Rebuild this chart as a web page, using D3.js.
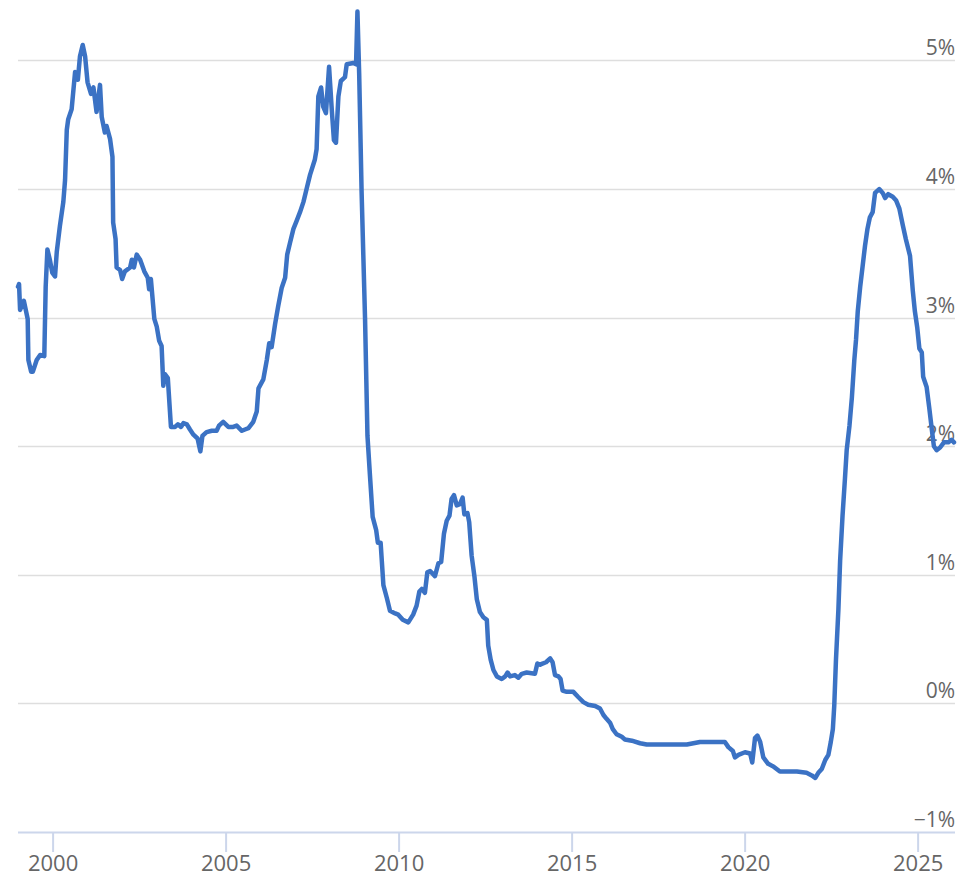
<!DOCTYPE html>
<html>
<head>
<meta charset="utf-8">
<script src="https://cdn.jsdelivr.net/npm/d3@7"></script>
<style>
  html, body { margin: 0; padding: 0; background: #fff; }
  svg { display: block; font-family: 'Open Sans', sans-serif; }
</style>
</head>
<body>
<svg id="chart" width="979" height="886"></svg>
<script>
// decimal year of each reading
const years = [
  1999.0, 1999.03, 1999.06, 1999.17, 1999.28, 1999.30, 1999.38, 1999.43, 1999.54, 1999.64,
  1999.76, 1999.80, 1999.85, 1999.92, 1999.99, 2000.07, 2000.12, 2000.21, 2000.31, 2000.36,
  2000.41, 2000.45, 2000.55, 2000.65, 2000.73, 2000.79, 2000.87, 2000.94, 2001.01, 2001.11,
  2001.18, 2001.27, 2001.37, 2001.42, 2001.51, 2001.56, 2001.66, 2001.73, 2001.75, 2001.82,
  2001.85, 2001.95, 2002.01, 2002.09, 2002.24, 2002.29, 2002.35, 2002.43, 2002.53, 2002.65,
  2002.75, 2002.79, 2002.84, 2002.94, 2003.01, 2003.08, 2003.15, 2003.20, 2003.25, 2003.33,
  2003.42, 2003.54, 2003.62, 2003.71, 2003.78, 2003.88, 2003.97, 2004.07, 2004.19, 2004.27,
  2004.33, 2004.45, 2004.60, 2004.74, 2004.81, 2004.93, 2005.08, 2005.22, 2005.32, 2005.47,
  2005.56, 2005.66, 2005.80, 2005.90, 2005.95, 2006.09, 2006.19, 2006.26, 2006.33, 2006.43,
  2006.52, 2006.62, 2006.72, 2006.78, 2006.86, 2006.96, 2007.05, 2007.15, 2007.25, 2007.34,
  2007.44, 2007.58, 2007.63, 2007.68, 2007.76, 2007.82, 2007.90, 2007.99, 2008.07, 2008.13,
  2008.19, 2008.26, 2008.33, 2008.45, 2008.50, 2008.69, 2008.77, 2008.81, 2008.86, 2008.93,
  2009.03, 2009.10, 2009.17, 2009.25, 2009.35, 2009.40, 2009.48, 2009.56, 2009.66, 2009.75,
  2009.90, 2009.99, 2010.12, 2010.28, 2010.42, 2010.52, 2010.60, 2010.67, 2010.76, 2010.83,
  2010.91, 2011.05, 2011.15, 2011.23, 2011.31, 2011.39, 2011.47, 2011.53, 2011.60, 2011.68,
  2011.77, 2011.85, 2011.90, 2011.99, 2012.04, 2012.11, 2012.19, 2012.26, 2012.35, 2012.45,
  2012.55, 2012.59, 2012.66, 2012.74, 2012.84, 2012.98, 2013.08, 2013.15, 2013.22, 2013.36,
  2013.46, 2013.56, 2013.70, 2013.94, 2014.01, 2014.09, 2014.16, 2014.26, 2014.38, 2014.45,
  2014.52, 2014.62, 2014.68, 2014.74, 2014.86, 2015.05, 2015.19, 2015.34, 2015.48, 2015.68,
  2015.82, 2015.92, 2016.01, 2016.11, 2016.19, 2016.30, 2016.45, 2016.54, 2016.74, 2016.98,
  2017.17, 2017.46, 2017.94, 2018.33, 2018.71, 2019.05, 2019.43, 2019.53, 2019.66, 2019.72,
  2019.82, 2020.01, 2020.16, 2020.22, 2020.30, 2020.37, 2020.45, 2020.54, 2020.68, 2020.83,
  2021.02, 2021.22, 2021.51, 2021.79, 2021.94, 2022.04, 2022.13, 2022.23, 2022.33, 2022.42,
  2022.49, 2022.55, 2022.59, 2022.64, 2022.71, 2022.76, 2022.83, 2022.90, 2022.95, 2023.03,
  2023.10, 2023.17, 2023.22, 2023.27, 2023.34, 2023.41, 2023.48, 2023.55, 2023.62, 2023.70,
  2023.77, 2023.89, 2023.99, 2024.06, 2024.15, 2024.28, 2024.38, 2024.47, 2024.57, 2024.66,
  2024.78, 2024.86, 2024.92, 2024.99, 2025.05, 2025.12, 2025.16, 2025.26, 2025.34, 2025.41,
  2025.47, 2025.55, 2025.65, 2025.76, 2025.89, 2025.98, 2026.05
]

// rate in percent
const rates = [
  3.24, 3.26, 3.06, 3.13, 2.99, 2.67, 2.58, 2.58, 2.67, 2.71,
  2.70, 3.24, 3.53, 3.45, 3.35, 3.32, 3.51, 3.71, 3.90, 4.07,
  4.46, 4.54, 4.62, 4.91, 4.85, 5.03, 5.12, 5.03, 4.83, 4.74,
  4.79, 4.60, 4.81, 4.56, 4.44, 4.49, 4.39, 4.25, 3.74, 3.61,
  3.39, 3.37, 3.30, 3.36, 3.39, 3.45, 3.39, 3.49, 3.45, 3.36,
  3.31, 3.22, 3.30, 2.99, 2.93, 2.82, 2.78, 2.47, 2.56, 2.53,
  2.15, 2.15, 2.17, 2.15, 2.18, 2.17, 2.13, 2.09, 2.06, 1.96,
  2.08, 2.11, 2.12, 2.12, 2.16, 2.19, 2.15, 2.15, 2.16, 2.12,
  2.13, 2.14, 2.19, 2.27, 2.45, 2.52, 2.67, 2.80, 2.77, 2.95,
  3.09, 3.23, 3.31, 3.49, 3.58, 3.69, 3.75, 3.82, 3.90, 4.00,
  4.11, 4.23, 4.31, 4.72, 4.79, 4.64, 4.59, 4.95, 4.61, 4.38,
  4.36, 4.72, 4.84, 4.87, 4.97, 4.98, 4.97, 5.38, 4.90, 3.98,
  2.99, 2.08, 1.78, 1.45, 1.35, 1.25, 1.25, 0.92, 0.82, 0.72,
  0.70, 0.69, 0.65, 0.63, 0.69, 0.76, 0.87, 0.89, 0.86, 1.02,
  1.03, 0.99, 1.09, 1.10, 1.32, 1.42, 1.46, 1.59, 1.62, 1.54,
  1.55, 1.60, 1.47, 1.48, 1.41, 1.15, 0.99, 0.81, 0.71, 0.67,
  0.65, 0.45, 0.34, 0.26, 0.21, 0.19, 0.21, 0.24, 0.21, 0.22,
  0.20, 0.23, 0.24, 0.23, 0.31, 0.30, 0.31, 0.32, 0.35, 0.32,
  0.22, 0.21, 0.19, 0.10, 0.09, 0.09, 0.05, 0.01, -0.01, -0.02,
  -0.04, -0.09, -0.12, -0.15, -0.20, -0.24, -0.26, -0.28, -0.29, -0.31,
  -0.32, -0.32, -0.32, -0.32, -0.30, -0.30, -0.30, -0.34, -0.37, -0.42,
  -0.40, -0.38, -0.39, -0.46, -0.27, -0.25, -0.30, -0.42, -0.47, -0.49,
  -0.53, -0.53, -0.53, -0.54, -0.56, -0.58, -0.54, -0.51, -0.44, -0.40,
  -0.30, -0.20, -0.02, 0.34, 0.73, 1.11, 1.46, 1.75, 1.97, 2.16,
  2.38, 2.67, 2.83, 3.05, 3.24, 3.40, 3.56, 3.69, 3.78, 3.82,
  3.97, 4.00, 3.97, 3.93, 3.96, 3.94, 3.91, 3.85, 3.72, 3.61,
  3.48, 3.21, 3.05, 2.92, 2.76, 2.73, 2.54, 2.46, 2.29, 2.13,
  2.00, 1.97, 1.99, 2.03, 2.03, 2.05, 2.03
]

const yearTicks = [2000, 2005, 2010, 2015, 2020, 2025]
const rateTicks = [-1, 0, 1, 2, 3, 4, 5]

const data = years.map((t, i) => ({ t, v: rates[i] }))

const svg = d3.select('#chart')
const left = 18
const right = 955
const bottom = 832

const xScale = d3.scaleLinear()
  .domain([1999.0, 2026.08])
  .range([left, right])

const yScale = d3.scaleLinear()
  .domain([-1, 5.47])
  .range([bottom, 0])

// horizontal grid lines
svg.append('g')
  .selectAll('line')
  .data(rateTicks.filter(d => d > -1))
  .join('line')
  .attr('x1', left)
  .attr('x2', right)
  .attr('y1', d => Math.round(yScale(d)) + 0.5)
  .attr('y2', d => Math.round(yScale(d)) + 0.5)
  .style('stroke', '#dedede')
  .style('stroke-width', 1.5)

// y labels sit on the right, just above their grid line
svg.append('g')
  .selectAll('text')
  .data(rateTicks)
  .join('text')
  .attr('x', right)
  .attr('y', d => yScale(d) - 5)
  .attr('text-anchor', 'end')
  .style('font-size', '21px')
  .style('fill', '#666')
  .text(d => (d < 0 ? '\u2212' + Math.abs(d) : d) + '%')

const xAxis = d3.axisBottom(xScale)
  .tickValues(yearTicks)
  .tickSize(20)
  .tickSizeOuter(0)
  .tickFormat(d3.format('d'))

const customXAxis = g => {
  g.call(xAxis)
  g.select('.domain')
    .attr('d', `M${left},0.5H${right}`)
    .style('stroke', '#ccd6eb')
    .style('stroke-width', 2)
  g.selectAll('.tick line')
    .style('stroke', '#ccd6eb')
    .style('stroke-width', 2)
  g.selectAll('.tick text')
    .attr('y', 23)
    .attr('dy', '0.71em')
    .style('font-family', "'Open Sans', sans-serif")
    .style('font-size', '22px')
    .style('fill', '#666')
}

svg.append('g')
  .attr('transform', `translate(0,${bottom})`)
  .call(customXAxis)

const lineGenerator = d3.line()
  .x(d => xScale(d.t))
  .y(d => yScale(d.v))

svg.append('path')
  .datum(data)
  .attr('d', lineGenerator)
  .style('fill', 'none')
  .style('stroke', '#3b72c4')
  .style('stroke-width', 4.5)
  .style('stroke-linejoin', 'round')
  .style('stroke-linecap', 'round')
</script>
</body>
</html>
